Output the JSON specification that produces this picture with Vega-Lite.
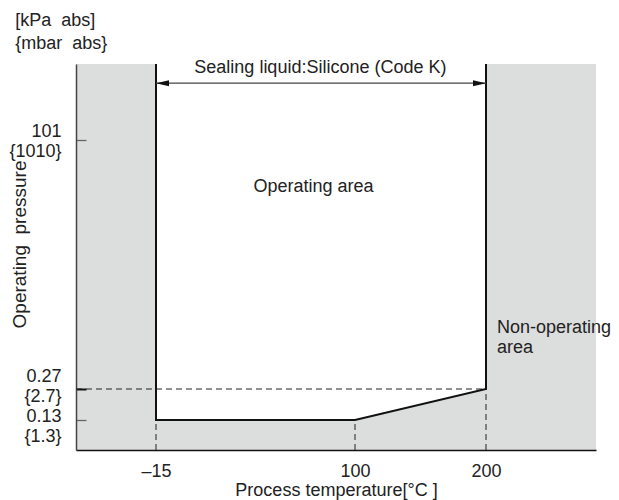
{
  "$schema": "https://vega.github.io/schema/vega-lite/v6.json",
  "width": 520,
  "height": 386,
  "autosize": {"type": "none"},
  "padding": {"left": 76, "top": 64, "right": 23, "bottom": 50},
  "background": "white",
  "config": {
    "font": "Liberation Sans",
    "view": {"fill": "#dcdddd", "stroke": null},
    "text": {"font": "Liberation Sans", "fontSize": 18, "color": "#222222"}
  },
  "datasets": {
    "operating": [
      {"t": -15, "low": 0.13, "top": 200},
      {"t": 100, "low": 0.13, "top": 200},
      {"t": 200, "low": 0.27, "top": 200}
    ],
    "dashes": [
      {"t": -61, "t2": 200, "p": 0.27, "p2": 0.27},
      {"t": -15, "t2": -15, "p": 0, "p2": 0.13},
      {"t": 100, "t2": 100, "p": 0, "p2": 0.13},
      {"t": 200, "t2": 200, "p": 0, "p2": 0.27}
    ],
    "boundary": [
      {"o": 1, "t": -15, "p": 200},
      {"o": 2, "t": -15, "p": 0.13},
      {"o": 3, "t": 100, "p": 0.13},
      {"o": 4, "t": 200, "p": 0.27},
      {"o": 5, "t": 200, "p": 200}
    ],
    "arrow": [
      {"t": -15, "t2": 200, "p": 175}
    ],
    "heads": [
      {"t": -15, "p": 175, "dir": "L"},
      {"t": 200, "p": 175, "dir": "R"}
    ],
    "centerTexts": [
      {"t": 80, "p": 194.8, "label": "Sealing liquid:Silicone (Code K)"},
      {"t": 76, "p": 82, "label": "Operating area"}
    ],
    "leftTexts": [
      {"t": 208.4, "p": 25, "label": "Non-operating\narea"},
      {"t": -96, "p": 256, "label": "[kPa\u00a0 abs]"},
      {"t": -96, "p": 226, "label": "{mbar\u00a0 abs}"}
    ]
  },
  "layer": [
    {
      "data": {"name": "operating"},
      "mark": {"type": "area", "color": "white", "opacity": 1},
      "encoding": {
        "x": {
          "field": "t", "type": "quantitative",
          "scale": {"domain": [-61, -15, 100, 200, 284], "range": [0, 80, 279, 410, 520], "nice": false, "zero": false},
          "axis": {
            "values": [-15, 100, 200],
            "ticks": false,
            "grid": false,
            "labelExpr": "datum.value == -15 ? '–15' : datum.label",
            "labelFontSize": 18,
            "labelColor": "#222222",
            "labelPadding": 12,
            "labelFlush": false,
            "domainColor": "#111111",
            "domainWidth": 1.5,
            "title": "Process temperature[°C ]",
            "titleFontSize": 18,
            "titleFontWeight": "normal",
            "titleColor": "#222222",
            "titlePadding": 1
          }
        },
        "y": {
          "field": "top", "type": "quantitative",
          "scale": {"domain": [0, 0.13, 0.27, 101, 200], "range": [386, 356, 325, 76, 0], "nice": false, "zero": false},
          "axis": {
            "values": [0.13, 0.27, 101],
            "grid": false,
            "tickSize": -10,
            "tickColor": {"condition": {"test": "datum.value == 0.27", "value": "#111111"}, "value": "#666666"},
            "tickWidth": {"condition": {"test": "datum.value == 0.27", "value": 2}, "value": 1.3},
            "domainColor": "#444444",
            "domainWidth": 1.5,
            "labelOverlap": false,
            "labelExpr": "datum.value == 101 ? ['101\u2002\u2002', '{1010}'] : datum.value == 0.27 ? ['0.27', '{2.7}'] : ['0.13', '{1.3}']",
            "labelFontSize": 18,
            "labelColor": "#222222",
            "labelLineHeight": 20,
            "labelAlign": "right",
            "labelBaseline": "middle",
            "labelPadding": 25,
            "labelOffset": {"condition": [
              {"test": "datum.value == 101", "value": -9},
              {"test": "datum.value == 0.27", "value": -13}
            ], "value": -4},
            "title": "Operating\u00a0 pressure",
            "titleFontSize": 19,
            "titleFontWeight": "normal",
            "titleColor": "#222222",
            "titleX": -57,
            "titleY": 180,
            "titleAngle": -90,
            "titleAlign": "center",
            "titleBaseline": "middle"
          }
        },
        "y2": {"field": "low"}
      }
    },
    {
      "data": {"name": "dashes"},
      "mark": {"type": "rule", "color": "#222222", "strokeWidth": 1, "strokeDash": [6, 4]},
      "encoding": {
        "x": {"field": "t", "type": "quantitative"},
        "x2": {"field": "t2"},
        "y": {"field": "p", "type": "quantitative"},
        "y2": {"field": "p2"}
      }
    },
    {
      "data": {"name": "boundary"},
      "mark": {"type": "line", "color": "#111111", "strokeWidth": 2},
      "encoding": {
        "x": {"field": "t", "type": "quantitative"},
        "y": {"field": "p", "type": "quantitative"},
        "order": {"field": "o", "type": "quantitative"}
      }
    },
    {
      "data": {"name": "arrow"},
      "mark": {"type": "rule", "color": "#444444", "strokeWidth": 1.2},
      "encoding": {
        "x": {"field": "t", "type": "quantitative"},
        "x2": {"field": "t2"},
        "y": {"field": "p", "type": "quantitative"}
      }
    },
    {
      "data": {"name": "heads"},
      "mark": {"type": "point", "filled": true, "color": "#111111", "opacity": 1, "size": 676},
      "encoding": {
        "x": {"field": "t", "type": "quantitative"},
        "y": {"field": "p", "type": "quantitative"},
        "shape": {
          "field": "dir", "type": "nominal",
          "scale": {"domain": ["L", "R"], "range": ["M0,0L1,-0.23L1,0.23Z", "M0,0L-1,-0.23L-1,0.23Z"]},
          "legend": null
        }
      }
    },
    {
      "data": {"name": "centerTexts"},
      "mark": {"type": "text", "align": "center", "baseline": "middle"},
      "encoding": {
        "x": {"field": "t", "type": "quantitative"},
        "y": {"field": "p", "type": "quantitative"},
        "text": {"field": "label", "type": "nominal"}
      }
    },
    {
      "data": {"name": "leftTexts"},
      "mark": {"type": "text", "align": "left", "baseline": "middle", "lineBreak": "\n", "lineHeight": 20},
      "encoding": {
        "x": {"field": "t", "type": "quantitative"},
        "y": {"field": "p", "type": "quantitative"},
        "text": {"field": "label", "type": "nominal"}
      }
    }
  ]
}
